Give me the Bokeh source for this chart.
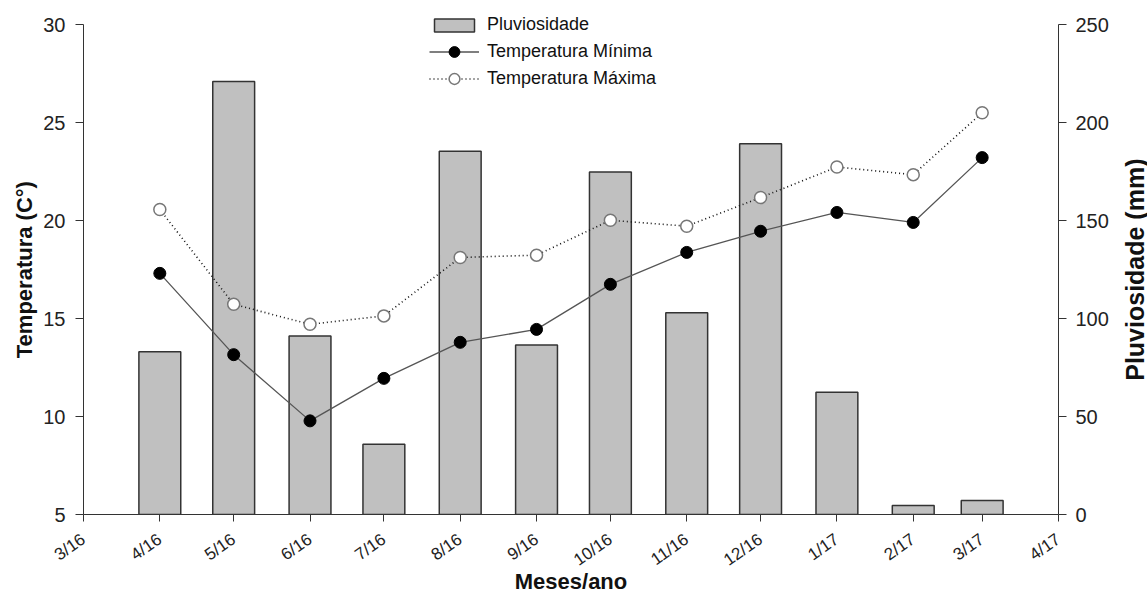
from datetime import datetime
import math
from bokeh.plotting import figure
from bokeh.layouts import row
from bokeh.models import Range1d, LinearAxis, FixedTicker, Legend, LegendItem
from bokeh.core.properties import value
from bokeh.embed import file_html
from bokeh.resources import INLINE

# ---- data ----
tick_labels = ["3/16", "4/16", "5/16", "6/16", "7/16", "8/16", "9/16",
               "10/16", "11/16", "12/16", "1/17", "2/17", "3/17", "4/17"]
data_months = ["4/16", "5/16", "6/16", "7/16", "8/16", "9/16",
               "10/16", "11/16", "12/16", "1/17", "2/17", "3/17"]
rain_mm = [83.1, 221.1, 91.1, 35.9, 185.4, 86.5, 174.9, 103.0, 189.3, 62.4, 4.6, 7.1]
temp_min = [17.31, 13.16, 9.78, 11.95, 13.79, 14.45, 16.75, 18.38, 19.46, 20.42, 19.91, 23.22]
temp_max = [20.57, 15.73, 14.71, 15.14, 18.12, 18.24, 20.02, 19.72, 21.18, 22.74, 22.35, 25.51]
temp_ticks = [5, 10, 15, 20, 25, 30]
rain_ticks = [0, 50, 100, 150, 200, 250]
left_title = "Temperatura (C°)"
right_title = "Pluviosidade (mm)"
x_title = "Meses/ano"
series_names = ["Pluviosidade", "Temperatura Mínima", "Temperatura Máxima"]

EPOCH = datetime(1970, 1, 1)
DAY_MS = 86400000
FONT = "Liberation Sans"

H = 597
LEFT_W = 40
RIGHT_W = 27
MAIN_W = 1147 - LEFT_W - RIGHT_W
B_BOTTOM = 83
FRAME_H = H - B_BOTTOM
TOP_GAP = 24.3  # space above the top tick inside the frame (room for legend)


def to_dt(lbl):
    m, y = lbl.split("/")
    return datetime(2000 + int(y), int(m), 1)


def to_ms(dt):
    return (dt - EPOCH).total_seconds() * 1000.0


tick_ms = [to_ms(to_dt(t)) for t in tick_labels]
x_dt = [to_dt(m) for m in data_months]

t_lo, t_hi = temp_ticks[0], temp_ticks[-1]
r_lo, r_hi = rain_ticks[0], rain_ticks[-1]
t_scale = (FRAME_H - TOP_GAP) / (t_hi - t_lo)
r_scale = (FRAME_H - TOP_GAP) / (r_hi - r_lo)

p = figure(width=MAIN_W, height=H, x_axis_type="datetime",
           x_range=Range1d(to_dt(tick_labels[0]), to_dt(tick_labels[-1])),
           y_range=Range1d(t_lo, t_hi + TOP_GAP / t_scale),
           output_backend="svg", toolbar_location=None,
           min_border_left=42, min_border_right=62,
           min_border_top=0, min_border_bottom=B_BOTTOM)
p.outline_line_color = None
p.xgrid.visible = False
p.ygrid.visible = False
p.background_fill_color = "white"

p.extra_y_ranges = {"rain": Range1d(r_lo, r_hi + TOP_GAP / r_scale)}

bars = p.vbar(x=x_dt, width=17 * DAY_MS, top=rain_mm, bottom=0, y_range_name="rain",
              fill_color="#c0c0c0", line_color="#333333", line_width=1.5)

lmin = p.line(x_dt, temp_min, line_color="#555555", line_width=1.3)
lmax = p.line(x_dt, temp_max, line_color="#111111", line_width=1.6, line_dash="1 3")
smin = p.scatter(x_dt, temp_min, size=12, fill_color="black", line_color="black")
smax = p.scatter(x_dt, temp_max, size=12, fill_color="white", line_color="#777777", line_width=1.5)

# axes styling
xa = p.xaxis[0]
xa.ticker = FixedTicker(ticks=tick_ms)
xa.major_label_overrides = {t: l for t, l in zip(tick_ms, tick_labels)}
xa.major_label_orientation = 0.61
xa.minor_tick_line_color = None
xa.major_tick_in = 0
xa.major_tick_out = 7
xa.axis_line_color = "#333333"
xa.major_tick_line_color = "#333333"
xa.major_label_text_font = FONT
xa.major_label_text_font_size = "17px"
xa.major_label_text_color = "#222222"
xa.major_label_standoff = 16
xa.axis_label = x_title
xa.axis_label_text_font = FONT
xa.axis_label_text_font_size = "22px"
xa.axis_label_text_font_style = "bold"
xa.axis_label_text_color = "#111111"
xa.axis_label_standoff = -11

ya = p.yaxis[0]
ya.ticker = FixedTicker(ticks=temp_ticks)
ya.bounds = (t_lo, t_hi)
ya.minor_tick_line_color = None
ya.major_tick_in = 0
ya.major_tick_out = 8
ya.axis_line_color = "#333333"
ya.major_tick_line_color = "#333333"
ya.major_label_text_font = FONT
ya.major_label_text_font_size = "20px"
ya.major_label_text_color = "#222222"
ya.major_label_standoff = 10

ra = LinearAxis(y_range_name="rain", ticker=FixedTicker(ticks=rain_ticks), bounds=(r_lo, r_hi))
ra.minor_tick_line_color = None
ra.major_tick_in = 0
ra.major_tick_out = 8
ra.axis_line_color = "#333333"
ra.major_tick_line_color = "#333333"
ra.major_label_text_font = FONT
ra.major_label_text_font_size = "20px"
ra.major_label_text_color = "#222222"
ra.major_label_standoff = 9
p.add_layout(ra, "right")


def style_legend(lg, glyph_h, spacing):
    lg.padding = 0
    lg.margin = 0
    lg.border_line_color = None
    lg.background_fill_alpha = 0
    lg.glyph_width = 50
    lg.glyph_height = glyph_h
    lg.label_height = 20
    lg.spacing = spacing
    lg.label_standoff = 8
    lg.label_text_font = FONT
    lg.label_text_font_size = "18px"
    lg.label_text_color = "#111111"


legend_bar = Legend(items=[LegendItem(label=series_names[0], renderers=[bars])],
                    location=(346, FRAME_H - 35))
style_legend(legend_bar, 16, 0)
legend_lines = Legend(items=[
    LegendItem(label=series_names[1], renderers=[lmin, smin]),
    LegendItem(label=series_names[2], renderers=[lmax, smax]),
], location=(346, FRAME_H - 92))
style_legend(legend_lines, 27, 0)
p.add_layout(legend_bar, "center")
p.add_layout(legend_lines, "center")

# vertical axis titles drawn in narrow side figures (both reading bottom-to-top)
title_center_y = TOP_GAP + (FRAME_H - TOP_GAP) / 2.0


def title_fig(width, text, size, cx):
    f = figure(width=width, height=H, output_backend="svg", toolbar_location=None,
               x_range=Range1d(0, width),
               y_range=Range1d(FRAME_H - title_center_y, -title_center_y),
               x_axis_location=None, y_axis_location=None,
               min_border=0, min_border_left=0, min_border_right=0,
               min_border_top=0, min_border_bottom=B_BOTTOM)
    f.outline_line_color = None
    f.xgrid.visible = False
    f.ygrid.visible = False
    f.text(x=[cx], y=[0], text=[text], angle=math.pi / 2,
           text_align="center", text_baseline="middle",
           text_font=value(FONT), text_font_style="bold",
           text_font_size=size, text_color="#111111")
    return f


pl = title_fig(LEFT_W, left_title, "22px", 24)
pr = title_fig(RIGHT_W, right_title, "25px", 1134 - (LEFT_W + MAIN_W))

layout = row(pl, p, pr, spacing=0)
open("out.html", "w").write(file_html(layout, INLINE))
